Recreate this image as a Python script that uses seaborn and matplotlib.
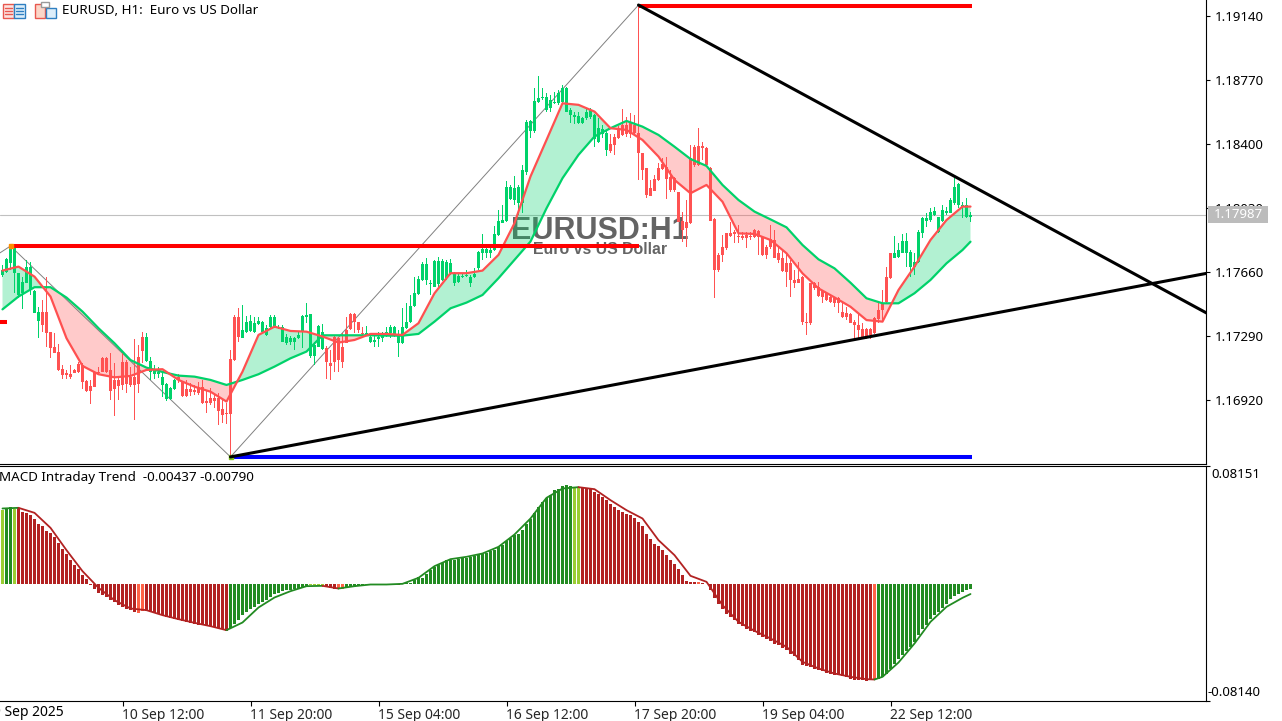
import matplotlib
matplotlib.use("Agg")
import matplotlib.pyplot as plt
from matplotlib.patches import Rectangle
import numpy as np
import pandas as pd
import seaborn as sns

# prices are kept in points (1 point = 0.00001)
opens = [
    117643,117662,117710,117653,117527,117537,117599,117556,117421,117377,
    117427,117427,117315,117229,117200,117098,117074,117071,117094,117128,
    117123,117030,117001,117084,117084,117161,117161,117094,117036,117036,
    117142,117142,117055,117055,117171,117286,117146,117084,117071,117071,
    117007,116924,116926,116982,117055,117026,116982,116982,116978,116997,
    116997,116916,116930,116930,116930,116866,116847,117155,117402,117398,
    117277,117315,117321,117315,117360,117315,117296,117340,117344,117340,
    117257,117248,117257,117254,117277,117315,117398,117175,117175,117229,
    117213,117219,117136,117287,117277,117229,117325,117418,117418,117373,
    117306,117296,117258,117258,117271,117277,117290,117310,117296,117252,
    117248,117335,117373,117464,117533,117614,117614,117591,117576,117591,
    117614,117624,117653,117595,117604,117630,117637,117599,117630,117682,
    117772,117772,117772,117788,117874,117942,117955,118081,118077,118057,
    118057,118240,118472,118472,118645,118664,118597,118607,118635,118635,
    118645,118587,118568,118555,118520,118520,118549,118555,118427,118414,
    118458,118366,118400,118439,118491,118510,118510,118520,118510,118462,
    118346,118259,118147,118196,118259,118284,118269,118207,118201,118124,
    117955,117951,118317,118384,118388,118388,118375,118259,117964,117758,
    117806,117883,117883,117893,117868,117868,117874,117868,117903,117899,
    117864,117806,117849,117845,117768,117739,117710,117710,117614,117617,
    117633,117373,117594,117594,117575,117552,117537,117513,117508,117508,
    117431,117425,117417,117373,117353,117328,117328,117328,117392,117440,
    117479,117629,117768,117743,117748,117768,117772,117691,117691,117720,
    117883,117957,117960,117989,117893,117957,118000,118003,118057,118047,
    118038,117980,117975]
highs = [
    117701,117739,117816,117797,117656,117633,117730,117716,117556,117456,
    117498,117633,117315,117306,117244,117123,117094,117123,117098,117142,
    117132,117036,117036,117090,117109,117167,117171,117194,117132,117055,
    117190,117151,117113,117271,117238,117315,117306,117167,117123,117113,
    117074,117017,116997,117040,117071,117032,117036,117017,117007,117026,
    117036,116978,116988,116949,116959,116930,116901,117209,117412,117450,
    117469,117406,117412,117398,117398,117379,117354,117414,117412,117354,
    117354,117302,117290,117286,117315,117412,117483,117415,117257,117354,
    117358,117233,117210,117290,117287,117306,117402,117421,117421,117373,
    117344,117350,117306,117310,117315,117315,117344,117354,117348,117325,
    117450,117479,117527,117633,117637,117720,117739,117614,117730,117749,
    117734,117730,117734,117662,117649,117653,117672,117643,117682,117782,
    117880,117816,117807,117923,118019,118048,118188,118163,118215,118163,
    118279,118539,118539,118722,118794,118722,118693,118684,118703,118713,
    118741,118732,118607,118587,118587,118558,118607,118607,118574,118549,
    118510,118481,118458,118458,118501,118601,118558,118578,118568,119203,
    118346,118259,118192,118221,118288,118317,118327,118250,118211,118124,
    118009,118076,118394,118394,118490,118413,118381,118269,117970,117768,
    117874,117887,117951,117903,117932,117893,117893,117893,117907,117903,
    117864,117816,117932,117903,117806,117787,117768,117729,117671,117720,
    117637,117421,117598,117604,117604,117556,117540,117533,117513,117513,
    117479,117459,117421,117382,117421,117363,117334,117334,117402,117479,
    117556,117691,117772,117870,117826,117880,117883,117787,117768,117903,
    117980,118000,118028,118034,117980,118047,118038,118086,118201,118176,
    118066,118086,118009]
lows = [
    117633,117653,117672,117537,117508,117446,117595,117527,117421,117281,
    117315,117229,117161,117190,117090,117042,117042,117042,117074,117074,
    116982,116965,116897,116993,117069,117084,117074,116920,116828,116920,
    116978,116963,116997,116805,116959,117132,117142,117036,117040,117046,
    116940,116916,116920,116978,117017,116940,116940,116945,116949,116949,
    116897,116843,116891,116872,116776,116789,116781,116595,117148,117257,
    117277,117309,117315,117306,117354,117306,117290,117335,117335,117329,
    117254,117238,117238,117209,117271,117219,117367,117161,117123,117225,
    117209,117040,117036,117084,117084,117103,117248,117325,117306,117306,
    117277,117290,117252,117225,117229,117258,117287,117277,117287,117167,
    117244,117329,117367,117460,117527,117610,117585,117527,117572,117566,
    117610,117614,117643,117580,117599,117624,117633,117576,117624,117672,
    117730,117739,117739,117784,117869,117942,117951,118077,118048,117990,
    117999,118221,118433,118466,118635,118655,118587,118587,118632,118626,
    118635,118582,118520,118516,118516,118516,118539,118543,118381,118404,
    118433,118331,118346,118337,118427,118447,118439,118433,118452,118192,
    118192,118086,118099,118130,118188,118250,118080,118124,118124,117951,
    117835,117806,117937,118269,118273,118307,118269,117957,117508,117662,
    117720,117787,117864,117826,117829,117845,117797,117845,117854,117758,
    117752,117733,117791,117739,117710,117662,117575,117513,117565,117594,
    117353,117296,117353,117556,117517,117479,117494,117483,117459,117421,
    117392,117382,117367,117276,117276,117271,117271,117271,117301,117363,
    117373,117479,117619,117739,117743,117768,117691,117633,117642,117714,
    117854,117922,117951,117984,117883,117951,117989,118000,118047,118028,
    117970,117970,117951]
closes = [
    117672,117733,117807,117797,117653,117604,117691,117687,117552,117431,
    117354,117309,117223,117194,117094,117065,117063,117055,117078,117084,
    117026,116972,116972,116997,117074,117084,117084,116974,116982,117001,
    117007,117013,117007,117007,117011,117205,117282,117148,117094,117084,
    117051,117013,116991,117036,117036,116943,116943,116968,116965,116963,
    116901,116905,116901,116916,116857,116833,116839,116839,117151,117286,
    117325,117373,117379,117367,117379,117373,117335,117398,117398,117344,
    117344,117286,117277,117277,117296,117406,117412,117415,117238,117348,
    117315,117142,117117,117142,117152,117142,117252,117329,117368,117325,
    117300,117306,117283,117267,117287,117290,117315,117344,117344,117296,
    117344,117373,117464,117537,117618,117707,117707,117599,117724,117724,
    117724,117720,117710,117653,117637,117637,117643,117630,117649,117774,
    117791,117791,117788,117880,117955,117961,118154,118154,118148,118154,
    118250,118529,118533,118651,118664,118674,118674,118655,118645,118693,
    118722,118722,118597,118568,118562,118549,118587,118597,118568,118491,
    118485,118462,118362,118395,118433,118452,118458,118458,118466,118346,
    118250,118105,118099,118130,118192,118253,118196,118134,118134,117951,
    117903,117912,117941,118278,118278,118375,118278,117957,117671,117671,
    117758,117797,117868,117880,117860,117855,117855,117860,117864,117864,
    117758,117758,117802,117739,117729,117666,117662,117614,117594,117598,
    117373,117367,117363,117565,117521,117517,117498,117488,117479,117479,
    117398,117402,117367,117353,117325,117276,117276,117296,117305,117386,
    117440,117488,117623,117768,117787,117839,117839,117777,117720,117893,
    117970,117970,118009,118014,117976,118018,118014,118076,118149,118169,
    118047,118047,117987]

# moving averages, read every fourth bar
ma_bars = list(range(0, 241, 4)) + [242]
fast_ma = [
    117668,117691,117633,117518,117277,117117,117069,117051,117059,117094,
    117098,117036,116997,116968,116911,117084,117296,117344,117319,117315,
    117287,117252,117267,117302,117302,117296,117364,117537,117653,117653,
    117668,117759,117942,118212,118423,118635,118626,118587,118491,118481,
    118423,118327,118192,118115,118163,118066,117883,117880,117845,117768,
    117652,117565,117513,117459,117382,117373,117556,117691,117845,117960,
    118038,118038]
slow_ma = [
    117444,117518,117572,117572,117512,117431,117335,117248,117151,117107,
    117082,117061,117055,117036,117007,117036,117069,117113,117161,117200,
    117294,117294,117294,117294,117292,117292,117302,117373,117450,117483,
    117527,117624,117730,117836,118028,118202,118337,118443,118491,118533,
    118500,118452,118384,118313,118273,118163,118076,118009,117964,117918,
    117816,117733,117681,117598,117508,117479,117479,117537,117614,117710,
    117787,117835]

zigzag_bars = [-1, 2, 57, 159]
zigzag_prices = [117765, 117810, 116591, 119203]
top_trend_bars = [159, 301]
top_trend_prices = [119203, 117423]
low_trend_bars = [57, 301]
low_trend_prices = [116591, 117652]
last_price = 117987

# levels: first bar, last bar, price, colour
level_starts = [159, 2, 57, -1]
level_ends = [242.4, 159, 242.4, 1]
level_prices = [119198, 117810, 116591, 117371]
level_colors = ["#ff0000", "#ff0000", "#0000ff", "#ff0000"]

macd_hist = [
    5550,5625,5775,5625,5675,5375,5325,5125,4825,4500,
    4300,3950,3800,3475,3075,2625,2250,1750,1425,1075,
    675,325,-75,-425,-675,-875,-1000,-1200,-1375,-1575,
    -1750,-1875,-2000,-2125,-2200,-2025,-2050,-2125,-2175,-2250,
    -2375,-2500,-2575,-2675,-2750,-2825,-2875,-2950,-3000,-3075,
    -3125,-3175,-3200,-3250,-3300,-3375,-3550,-3325,-3000,-2750,
    -2375,-2125,-1925,-1750,-1500,-1375,-1200,-1000,-800,-675,
    -575,-500,-450,-425,-375,-250,-175,-125,-125,-75,
    -125,-225,-325,-425,-425,-375,-325,-250,-250,-200,
    -175,-75,-75,-75,-125,-125,-75,-75,-50,-125,
    -50,25,50,300,500,425,750,1000,1250,1425,
    1575,1750,1800,1800,1875,1925,1950,1975,2075,2125,
    2225,2300,2425,2500,2750,2875,3175,3425,3675,3750,
    4000,4500,4875,5325,5750,6125,6425,6675,7000,7125,
    7325,7375,7325,7250,7175,7250,7200,7075,6875,6750,
    6500,6300,5950,5750,5500,5375,5250,5125,4925,4625,
    4300,3750,3375,3000,2800,2500,2125,1800,1500,1075,
    625,175,125,125,125,75,-50,-500,-1075,-1500,
    -1875,-2250,-2500,-2750,-3000,-3200,-3375,-3575,-3625,-3825,
    -4000,-4175,-4325,-4500,-4625,-4825,-5000,-5250,-5425,-5750,
    -6125,-6200,-6250,-6375,-6500,-6575,-6675,-6750,-6825,-6875,
    -6925,-7000,-7125,-7200,-7250,-7250,-7300,-7250,-7175,-7125,
    -7000,-6750,-6425,-6050,-5675,-5375,-5075,-4750,-4375,-3875,
    -3425,-3075,-2675,-2375,-2125,-1825,-1500,-1175,-925,-750,
    -625,-500,-437]
hist_green_spans = [(1, 2), (57, 76), (86, 90), (97, 98), (100, 142), (219, 242)]
hist_lime_spans = [(0, 0), (3, 3), (77, 80), (91, 93), (143, 144)]
hist_tomato_spans = [(34, 35), (84, 85), (174, 174), (218, 218)]

macd_line_bars = list(range(0, 217, 4)) + [218] + list(range(220, 241, 4)) + [242]
macd_line = [
    5625,5675,5300,4175,2500,925,-325,-1250,-1875,-2000,
    -2375,-2675,-2950,-3200,-3500,-2925,-1800,-1050,-575,-200,
    -175,-375,-200,-75,-75,-25,425,1300,1825,2000,
    2250,2750,3675,4875,6425,7125,7225,7075,6250,5500,
    4875,3250,2125,575,125,-1625,-2875,-3550,-4125,-4750,
    -5875,-6375,-6750,-7000,-7175,-7200,-7000,-5925,-4500,-2875,
    -1750,-1075,-790]
# first bar, last bar, colour of each stretch of the line
line_stretches = [(0, 4, "#228b22"), (4, 56, "#b22222"), (56, 80, "#228b22"),
                  (80, 84, "#b22222"), (84, 144, "#228b22"),
                  (144, 218, "#b22222"), (218, 242, "#228b22")]

price_ticks = [119140, 118770, 118400, 118030, 117660, 117290, 116920]
time_tick_bars = [30, 62, 94, 126, 158, 190, 222]
time_labels = ["10 Sep 12:00", "11 Sep 20:00", "15 Sep 04:00", "16 Sep 12:00",
               "17 Sep 20:00", "19 Sep 04:00", "22 Sep 12:00"]

UP = "#00d26a"
DOWN = "#ff5252"
FONT = "Noto Sans"
W, H = 1282, 721


def to_price(values):
    return np.array(values) / 1e5


def pane(left, top, right, bottom):
    return fig.add_axes([left / W, 1 - bottom / H, (right - left) / W, (bottom - top) / H])


sns.set_style("white")
plt.rcParams["font.family"] = [FONT, "DejaVu Sans"]
fig = plt.figure(figsize=(W / 100, H / 100), dpi=100, facecolor="white")

ax = pane(0, 0, 1206, 463.5)
ax_macd = pane(0, 465.5, 1206, 700.5)
ui = fig.add_axes([0, 0, 1, 1], zorder=10)
ui.set_xlim(0, W)
ui.set_ylim(H, 0)
ui.axis("off")
ui.patch.set_alpha(0)

# price pane
bars = np.arange(len(opens))
o, h, l, c = map(to_price, (opens, highs, lows, closes))
candle_colors = [UP if c[i] >= o[i] else DOWN for i in bars]

ax.text(600, 231, "EURUSD:H1", transform=ui.transData, ha="center", va="center",
        family="Liberation Sans", weight="bold", fontsize=22, color="#646464", zorder=1)
ax.text(600, 249, "Euro vs US Dollar", transform=ui.transData, ha="center", va="center",
        family="Liberation Sans", weight="bold", fontsize=11.4, color="#646464", zorder=1)
ax.axhline(last_price / 1e5, color="#c0c0c0", lw=0.8, zorder=1.5)

fast, slow = to_price(fast_ma), to_price(slow_ma)
ax.fill_between(ma_bars, fast, slow, where=fast >= slow, interpolate=True,
                color="#00d26a", alpha=0.3, lw=0, zorder=2)
ax.fill_between(ma_bars, fast, slow, where=fast <= slow, interpolate=True,
                color="#ff5050", alpha=0.3, lw=0, zorder=2)

sns.lineplot(x=zigzag_bars, y=to_price(zigzag_prices), ax=ax, color="#808080", lw=0.7,
             estimator=None, sort=False, zorder=2.5)
# thin bars for the wicks stay a solid single pixel
ax.bar(bars, h - l, bottom=l, width=0.25, color=candle_colors, lw=0, antialiased=False, zorder=3)
ax.bar(bars, c - o, bottom=o, width=0.68, color=candle_colors, lw=0, antialiased=False, zorder=3.1)
sns.lineplot(x=ma_bars, y=slow, ax=ax, color="#00d26a", lw=1.6, estimator=None, zorder=4)
sns.lineplot(x=ma_bars, y=fast, ax=ax, color="#ff5050", lw=1.6, estimator=None, zorder=4.1)

for start, end, level, color in zip(level_starts, level_ends, level_prices, level_colors):
    ax.hlines(level / 1e5, start, end, colors=color, lw=2.9, zorder=5)
sns.lineplot(x=top_trend_bars, y=to_price(top_trend_prices), ax=ax, color="black", lw=2.2,
             estimator=None, zorder=6)
sns.lineplot(x=low_trend_bars, y=to_price(low_trend_prices), ax=ax, color="black", lw=2.2,
             estimator=None, zorder=6)
ax.plot(2, 117810 / 1e5, "s", color="#ff8c00", ms=3.5, zorder=7)
ax.plot(57, 116591 / 1e5, "s", color="#7fc31c", ms=3, zorder=5.5)

# macd pane
states = np.array(["down"] * len(macd_hist), dtype=object)
for spans, name in ((hist_green_spans, "up"), (hist_lime_spans, "up_weak"),
                    (hist_tomato_spans, "down_weak")):
    for a, b in spans:
        states[a:b + 1] = name
hist_df = pd.DataFrame({"bar": bars, "value": to_price(macd_hist), "state": states})
sns.barplot(data=hist_df, x="bar", y="value", hue="state", native_scale=True, dodge=False,
            palette={"up": "#228b22", "down": "#b22222", "up_weak": "#9acd32", "down_weak": "#ff6347"},
            width=0.68, saturation=1, legend=False, ax=ax_macd, lw=0, antialiased=False, zorder=3)
line_bars = np.array(macd_line_bars)
line_vals = to_price(macd_line)
for a, b, color in line_stretches:
    mask = (line_bars >= a) & (line_bars <= b)
    sns.lineplot(x=line_bars[mask], y=line_vals[mask], ax=ax_macd, color=color, lw=1.3,
                 estimator=None, zorder=4)

# axes, ticks and frames
for a in (ax, ax_macd):
    a.set_xlim(-0.625, 300.875)
    a.set_xlabel("")
    a.set_ylabel("")
    a.yaxis.tick_right()
    a.tick_params(axis="y", length=3, width=0.8, color="black", pad=3, labelsize=9.5, labelcolor="black")
    a.spines["left"].set_visible(False)
    for side in ("right", "bottom"):
        a.spines[side].set_color("black")
        a.spines[side].set_linewidth(0.8)
ax.spines["top"].set_visible(False)
ax_macd.spines["top"].set_visible(True)
ax_macd.spines["top"].set_color("black")
ax_macd.spines["top"].set_linewidth(0.8)

ax.set_ylim(1.16553, 1.19232)
ax.set_xticks([])
ax.set_yticks(to_price(price_ticks))
ax.set_yticklabels([f"{t / 1e5:.5f}" for t in price_ticks])

ax_macd.set_ylim(-0.08775, 0.08850)
ax_macd.set_yticks([0.0885, -0.08775])
ax_macd.set_yticklabels(["", ""])
ax_macd.set_xticks(time_tick_bars)
ax_macd.set_xticklabels(time_labels, ha="left")
ax_macd.tick_params(axis="x", length=3.6, width=0.8, color="black", pad=2, labelsize=10, bottom=True)
ui.text(64, 713, "09 Sep 2025", ha="right", va="center", fontsize=10, color="black")
ui.text(1211, 474, "0.08151", ha="left", va="center", fontsize=9.5, color="black")
ui.text(1208, 692, "-0.08140", ha="left", va="center", fontsize=9.5, color="black")

# header texts and terminal icons
ui.text(62, 11, "EURUSD, H1:  Euro vs US Dollar", ha="left", va="center", fontsize=9.7, color="black")
ui.text(-1, 478, "MACD Intraday Trend  -0.00437 -0.00790", ha="left", va="center", fontsize=9.7, color="black")
ui.add_patch(Rectangle((1208, 206), 60, 17, color="#bcbcbc", lw=0))
ui.text(1238, 214.5, "1.17987", ha="center", va="center", fontsize=9.5, color="white")

ICON_RED = "#e8584f"
ICON_BLUE = "#2f7fc1"
ui.add_patch(Rectangle((3, 4), 11, 14, fc="#fde3e0", ec=ICON_RED, lw=1))
ui.add_patch(Rectangle((14, 4), 11, 14, fc="#ddeefa", ec=ICON_BLUE, lw=1))
for y in (8, 11, 14):
    ui.plot([5, 12], [y, y], color=ICON_RED, lw=1)
    ui.plot([16, 23], [y, y], color=ICON_BLUE, lw=1)
ui.add_patch(Rectangle((35, 4), 10, 14, fc="#fbd6c8", ec=ICON_RED, lw=1))
ui.add_patch(Rectangle((46, 8), 10, 10, fc="#ddeefa", ec=ICON_BLUE, lw=1))
ui.add_patch(Rectangle((41, 2), 8, 5, fc="white", ec="#9a9a9a", lw=1))

fig.savefig("out.png", dpi=100, facecolor="white")
